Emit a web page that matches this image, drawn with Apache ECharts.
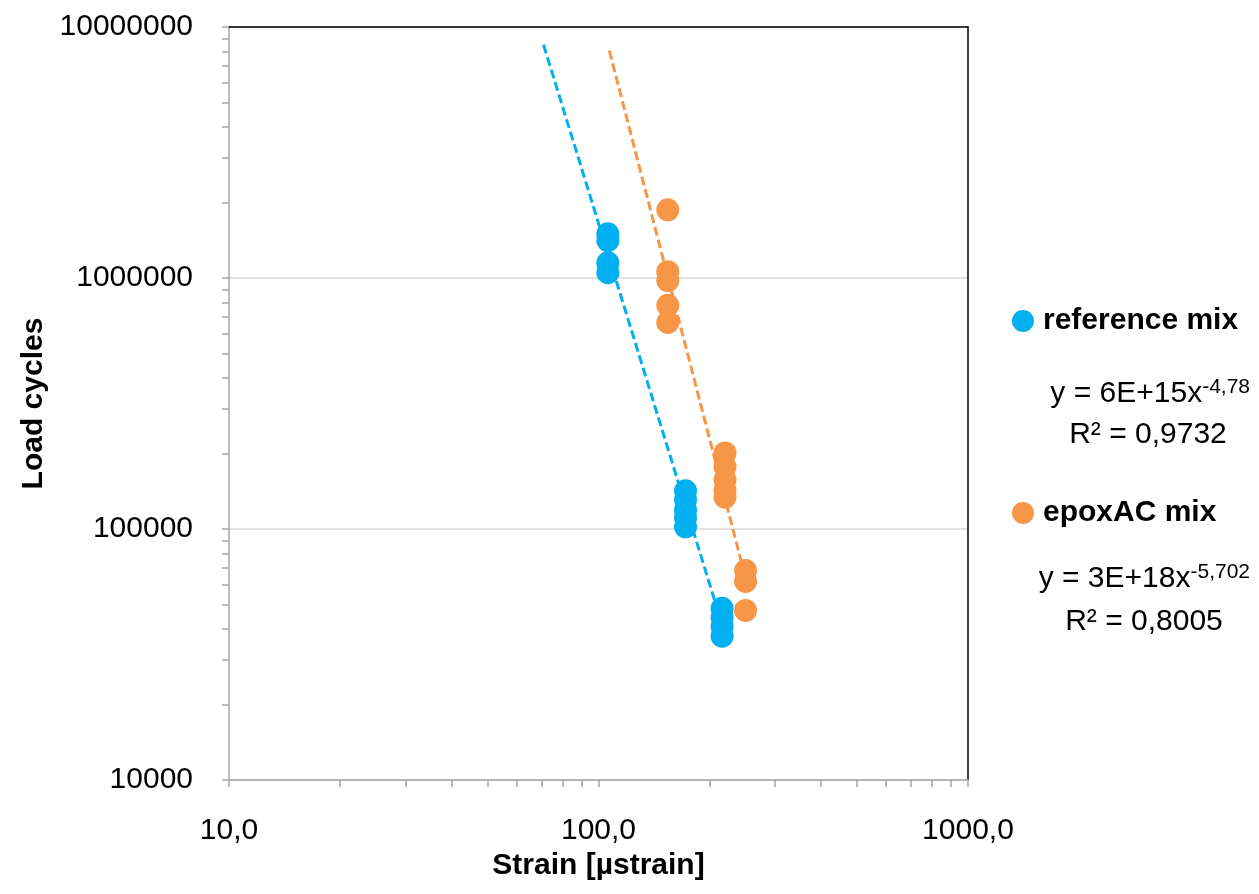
<!DOCTYPE html>
<html>
<head>
<meta charset="utf-8">
<script src="https://cdn.jsdelivr.net/npm/echarts@6/dist/echarts.min.js"></script>
<style>html,body{margin:0;padding:0;background:#fff;}#c{width:1259px;height:894px;}</style>
</head>
<body>
<div id="c"></div>
<script>
// ---- data ----
const refStrain  = [106, 106, 106, 106, 172, 172, 172, 172, 172, 216, 216, 216, 216];
const refCycles  = [1.50e6, 1.41e6, 1.15e6, 1.05e6, 1.42e5, 1.31e5, 1.19e5, 1.11e5, 1.02e5, 4.83e4, 4.45e4, 4.09e4, 3.74e4];
const epoxStrain = [154, 154, 154, 154, 154, 220, 220, 220, 220, 220, 250, 250, 250];
const epoxCycles = [1.87e6, 1.06e6, 9.77e5, 7.78e5, 6.65e5, 2.01e5, 1.77e5, 1.57e5, 1.43e5, 1.34e5, 6.83e4, 6.18e4, 4.74e4];

// power-law trendlines as printed on the chart: y = a * x^b, drawn over [from, to]
const refTrend  = [6e15, -4.78, 71, 216];
const epoxTrend = [3e18, -5.702, 107, 250];

const seriesNames = ['reference mix', 'epoxAC mix'];
const eqTexts = ['y = 6E+15x', 'y = 3E+18x'];
const eqExps  = ['-4,78', '-5,702'];
const r2Texts = ['R² = 0,9732', 'R² = 0,8005'];

// ---- helpers ----
function zip(xs, ys) { return xs.map((x, i) => [x, ys[i]]); }
function trendPts(t) { return [[t[2], t[0] * Math.pow(t[2], t[1])], [t[3], t[0] * Math.pow(t[3], t[1])]]; }
function decadeTicks(lo, hi) {
  const out = [];
  for (let d = lo; d < hi; d *= 10) for (let k = 1; k <= 9; k++) out.push(d * k);
  out.push(hi);
  return out;
}

const FONT = "'Liberation Sans', Arial, sans-serif";
const BLUE = '#00B0F0', ORANGE = '#F79646';

const eqRich = {
  m: {fontFamily: FONT, fontSize: 30, lineHeight: 34, fill: '#000'},
  s: {fontFamily: FONT, fontSize: 21, lineHeight: 21, verticalAlign: 'top', fill: '#000'}
};

const chart = echarts.init(document.getElementById('c'), null, {renderer: 'canvas'});
chart.setOption({
  backgroundColor: '#fff',
  animation: false,
  textStyle: {fontFamily: FONT},
  grid: {left: 229, right: 291, top: 27, bottom: 114, containLabel: false, outerBoundsMode: 'none'},
  legend: {
    orient: 'vertical', left: 1012, top: 302, padding: 0,
    icon: 'circle', itemWidth: 22, itemHeight: 22, itemGap: 154,
    data: seriesNames,
    textStyle: {fontFamily: FONT, fontSize: 30, fontWeight: 'bold', color: '#000', lineHeight: 36, padding: [2, 0, 0, 4]}
  },
  xAxis: [{
    type: 'log', logBase: 10, min: 10, max: 1000,
    name: 'Strain [µstrain]', nameLocation: 'middle', nameGap: 70,
    nameTextStyle: {fontFamily: FONT, fontSize: 30, fontWeight: 'bold', color: '#000'},
    axisLine: {show: true, lineStyle: {color: '#A6A6A6', width: 1.5}},
    axisTick: {show: true, inside: false, length: 7, lineStyle: {color: '#A6A6A6', width: 1.5}, customValues: decadeTicks(10, 1000)},
    axisLabel: {fontFamily: FONT, fontSize: 30, color: '#000', margin: 36, formatter: v => v.toFixed(1).replace('.', ',')},
    splitLine: {show: false}
  }, {
    type: 'log', logBase: 10, min: 10, max: 1000, position: 'top',
    axisLine: {show: true, lineStyle: {color: '#000', width: 1.5}},
    axisTick: {show: false}, axisLabel: {show: false}, splitLine: {show: false}
  }],
  yAxis: [{
    type: 'log', logBase: 10, min: 1e4, max: 1e7,
    name: 'Load cycles', nameLocation: 'middle', nameGap: 168,
    nameTextStyle: {fontFamily: FONT, fontSize: 30, fontWeight: 'bold', color: '#000'},
    axisLine: {show: true, lineStyle: {color: '#A6A6A6', width: 1.5}},
    axisTick: {show: true, inside: false, length: 7, lineStyle: {color: '#A6A6A6', width: 1.5}, customValues: decadeTicks(1e4, 1e7)},
    axisLabel: {fontFamily: FONT, fontSize: 30, color: '#000', margin: 36, formatter: v => String(Math.round(v))},
    splitLine: {show: false}
  }, {
    type: 'log', logBase: 10, min: 1e4, max: 1e7, position: 'right',
    axisLine: {show: true, lineStyle: {color: '#000', width: 1.5}},
    axisTick: {show: false}, axisLabel: {show: false},
    splitLine: {show: true, lineStyle: {color: '#D9D9D9', width: 1.5}}
  }],
  series: [
    {name: seriesNames[0], type: 'scatter', data: zip(refStrain, refCycles), symbol: 'circle', symbolSize: 23,
     itemStyle: {color: BLUE, opacity: 1}, z: 2},
    {name: seriesNames[1], type: 'scatter', data: zip(epoxStrain, epoxCycles), symbol: 'circle', symbolSize: 23,
     itemStyle: {color: ORANGE, opacity: 1}, z: 2},
    {name: 'ref trend', type: 'line', data: trendPts(refTrend), symbol: 'none', silent: true,
     lineStyle: {color: BLUE, width: 3, type: [9, 4]}, z: 5},
    {name: 'epox trend', type: 'line', data: trendPts(epoxTrend), symbol: 'none', silent: true,
     lineStyle: {color: ORANGE, width: 3, type: [9, 4]}, z: 5}
  ],
  graphic: [
    {type: 'text', x: 1250, y: 394, style: {text: '{m|' + eqTexts[0] + '}{s|' + eqExps[0] + '}', align: 'right', verticalAlign: 'middle', rich: eqRich}},
    {type: 'text', x: 1148, y: 435, style: {text: r2Texts[0], align: 'center', verticalAlign: 'middle', fontFamily: FONT, fontSize: 30, fill: '#000'}},
    {type: 'text', x: 1250, y: 579, style: {text: '{m|' + eqTexts[1] + '}{s|' + eqExps[1] + '}', align: 'right', verticalAlign: 'middle', rich: eqRich}},
    {type: 'text', x: 1144, y: 622, style: {text: r2Texts[1], align: 'center', verticalAlign: 'middle', fontFamily: FONT, fontSize: 30, fill: '#000'}}
  ]
});
</script>
</body>
</html>
